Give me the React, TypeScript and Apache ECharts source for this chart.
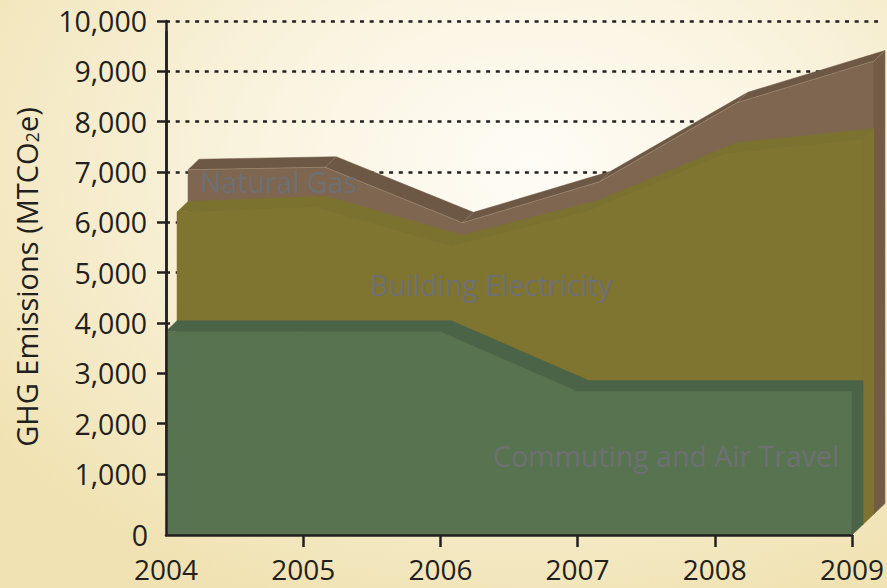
import React, { useEffect, useRef } from "react";
import * as echarts from "echarts";

const years = ["2004", "2005", "2006", "2007", "2008", "2009"];
const commuting = [4050, 4050, 4050, 2860, 2860, 2860];
const buildingElectricity = [2160, 2270, 1490, 3380, 4520, 4800];
const naturalGas = [630, 570, 245, 360, 790, 1340];
const yTicks = [1000, 2000, 3000, 4000, 5000, 6000, 7000, 8000, 9000, 10000];

const DX = 11;
const DY = 10.5;
const FONT = "'Open Sans', 'Noto Sans', sans-serif";
const INK = "#231f20";

const stackTops = (): number[][] => {
  const g = commuting.slice();
  const o = commuting.map((v, i) => v + buildingElectricity[i]);
  const b = o.map((v, i) => v + naturalGas[i]);
  return [b, o, g];
};

function makeRender(tops: number[], depth: number, c: any) {
  return (params: any, api: any) => {
    if (params.dataIndex !== 0) return null;
    const n = tops.length;
    const f = (i: number, v: number, k: number) => {
      const p = api.coord([i, v]);
      return [p[0] + DX * k, p[1] - DY * k];
    };
    const F = tops.map((v, i) => f(i, v, depth));
    const B = tops.map((v, i) => f(i, v, depth + 1));
    const front = [...F, f(n - 1, 0, depth), f(0, 0, depth)];
    const bevel = [...F, ...B.slice().reverse()];
    const side = [F[n - 1], B[n - 1], f(n - 1, 0, depth + 1), f(n - 1, 0, depth)];
    const children: any[] = [
      { type: "polygon", shape: { points: front }, style: { fill: c.front, stroke: c.front, lineWidth: 0.5 } },
      { type: "polygon", shape: { points: bevel }, style: { fill: c.top, stroke: c.top, lineWidth: 0.5 } },
      { type: "polygon", shape: { points: side }, style: { fill: c.side, stroke: c.side, lineWidth: 0.5 } },
    ];
    if (c.edge) {
      children.push({ type: "polyline", shape: { points: F }, style: { fill: null, stroke: c.edge, lineWidth: 0.8, opacity: 0.7 } });
      for (let i = 0; i < n; i++) {
        children.push({ type: "line", shape: { x1: F[i][0], y1: F[i][1], x2: B[i][0], y2: B[i][1] }, style: { stroke: c.edge, lineWidth: 0.8, opacity: 0.6 } });
      }
    }
    return { type: "group", children };
  };
}

export default function App() {
  const ref = useRef<HTMLDivElement>(null);
  useEffect(() => {
    if (!ref.current) return;
    const chart = echarts.init(ref.current, undefined, { renderer: "svg" });
    const [brownTop, oliveTop, greenTop] = stackTops();
    const ribbons = [
      { name: "Natural Gas", tops: brownTop, depth: 2, c: { front: "#7e6650", top: "#6d5745", side: "#735b46", edge: "#b09c82" } },
      { name: "Building Electricity", tops: oliveTop, depth: 1, c: { front: "#807530", top: "#7c7230", side: "#7e7330" } },
      { name: "Commuting and Air Travel", tops: greenTop, depth: 0, c: { front: "#587350", top: "#4b6347", side: "#4b6347" } },
    ];
    const labelStyle = { fontFamily: FONT, fontSize: 28.5, fill: "#6e7073" };
    chart.setOption({
      animation: false,
      grid: [
        { left: 166, right: 9, top: 21, bottom: 114 },
        { left: 166, right: 32, top: 31.7, bottom: 53 },
      ],
      xAxis: [
        { gridIndex: 0, type: "category", data: years, show: false, boundaryGap: false },
        {
          gridIndex: 1,
          type: "category",
          data: years,
          boundaryGap: false,
          z: 10,
          axisLine: { show: true, lineStyle: { color: INK, width: 2.5 } },
          axisTick: { show: true, length: 12, lineStyle: { color: INK, width: 2.5 }, interval: (i: number) => i !== 0 },
          axisLabel: { color: INK, fontFamily: FONT, fontSize: 28, margin: 20 },
        },
      ],
      yAxis: [
        {
          gridIndex: 0,
          type: "value",
          min: yTicks[0],
          max: yTicks[yTicks.length - 1],
          interval: 1000,
          axisLine: { show: true, lineStyle: { color: INK, width: 2.5 } },
          axisTick: { show: true, length: 9, lineStyle: { color: INK, width: 2.5 } },
          axisLabel: {
            color: INK,
            fontFamily: FONT,
            fontSize: 28.5,
            margin: 19,
            formatter: (v: number) => v.toLocaleString("en-US"),
          },
          splitLine: { show: true, lineStyle: { color: INK, width: 2.5, type: [4, 5.7] } },
        },
        {
          gridIndex: 1,
          type: "value",
          min: 0,
          max: 10000,
          interval: 10000,
          z: 10,
          axisLine: { show: true, lineStyle: { color: INK, width: 2.5 } },
          axisTick: { show: false },
          splitLine: { show: false },
          axisLabel: { color: INK, fontFamily: FONT, fontSize: 28.5, margin: 18, formatter: (v: number) => (v === 0 ? "0" : "") },
        },
      ],
      series: ribbons.map((r) => ({
        type: "custom",
        name: r.name,
        xAxisIndex: 1,
        yAxisIndex: 1,
        silent: true,
        data: r.tops.map((v, i) => [i, v]),
        renderItem: makeRender(r.tops, r.depth, r.c),
      })),
      graphic: [
        {
          type: "text",
          x: 26,
          y: 277,
          rotation: Math.PI / 2,
          style: {
            text: "{a|GHG Emissions (MTCO}{s|2}{a|e)}",
            align: "center",
            verticalAlign: "middle",
            rich: {
              a: { fontFamily: FONT, fontSize: 29, fill: INK, color: INK },
              s: { fontFamily: FONT, fontSize: 18, fill: INK, color: INK, verticalAlign: "bottom" },
            },
          },
          z: 20,
        },
        { type: "text", x: 200, y: 182, z: 20, style: { text: "Natural Gas", ...labelStyle, verticalAlign: "middle" } },
        { type: "text", x: 370, y: 285, z: 20, style: { text: "Building Electricity", ...labelStyle, verticalAlign: "middle" } },
        { type: "text", x: 493, y: 456, z: 20, style: { text: "Commuting and Air Travel", ...labelStyle, verticalAlign: "middle" } },
      ],
    });
    return () => chart.dispose();
  }, []);
  return (
    <div
      ref={ref}
      style={{
        position: "absolute",
        left: 0,
        top: 0,
        width: 887,
        height: 588,
        background: "radial-gradient(ellipse 75% 80% at 60% 28%, #fefcf6 0%, #faf4e0 40%, #f3e7bf 85%, #f0e2b2 100%)",
      }}
    />
  );
}
